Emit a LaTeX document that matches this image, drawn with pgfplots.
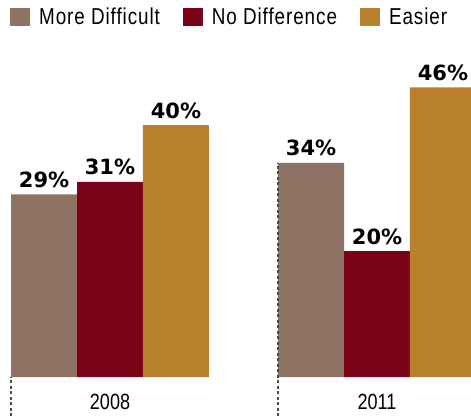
\documentclass[border=0pt]{standalone}
\usepackage{fontspec}
\setmainfont{Liberation Sans}[FakeStretch=0.82]
\newfontfamily\pctfont{DejaVu Sans}
\usepackage{pgfplots}
\pgfplotsset{compat=1.18}
\definecolor{cMD}{HTML}{8E7365}
\definecolor{cND}{HTML}{7B0318}
\definecolor{cEA}{HTML}{BA812C}
\begin{document}
\begin{tikzpicture}
\begin{axis}[
  scale only axis, width=471pt, height=416pt,
  xmin=-0.412, xmax=1.352, ymin=-6.19, ymax=59.84,
  ybar, bar width=0.247,
  axis line style={draw=none},
  ytick=\empty,
  xtick={0,1}, xticklabels={2008,2011},
  major tick length=0pt,
  xticklabel style={anchor=base, yshift=7pt, inner sep=0pt, font=\fontsize{22}{22}\selectfont},
  nodes near coords={\pgfmathprintnumber[assume math mode=true]{\pgfplotspointmeta}\%},
  every node near coord/.append style={font=\pctfont\bfseries\fontsize{21}{21}\selectfont, anchor=base, yshift=7pt, inner sep=0pt, text=black},
  legend columns=3,
  legend cell align=left,
  legend image code/.code={\fill[#1,draw=none] (0pt,-9.25pt) rectangle (20pt,9.25pt);},
  legend style={at={(axis description cs:0,1)}, anchor=north west, xshift=10pt, yshift=-7.3pt,
    draw=none, fill=none, inner sep=0pt, nodes={inner sep=0pt},
    font=\fontsize{23}{23}\selectfont\addfontfeature{LetterSpace=4},
    /tikz/every odd column/.append style={column sep=9pt},
    /tikz/every even column/.append style={column sep=23pt}},
]
\addplot[fill=cMD, draw=none, bar shift=-0.247] coordinates {(0,29) (1,34)};
\addplot[fill=cND, draw=none, bar shift=0] coordinates {(0,31) (1,20)};
\addplot[fill=cEA, draw=none, bar shift=0.247] coordinates {(0,40) (1,46)};
\legend{More Difficult, No Difference, Easier}
\draw[black!70, line width=1.3pt, dash pattern=on 3pt off 2.5pt] (axis cs:-0.3705,-6.19) -- (axis cs:-0.3705,0);
\draw[black!70, line width=1.3pt, dash pattern=on 3pt off 2.5pt] (axis cs:0.6295,-6.19) -- (axis cs:0.6295,34);
\end{axis}
\end{tikzpicture}
\end{document}
